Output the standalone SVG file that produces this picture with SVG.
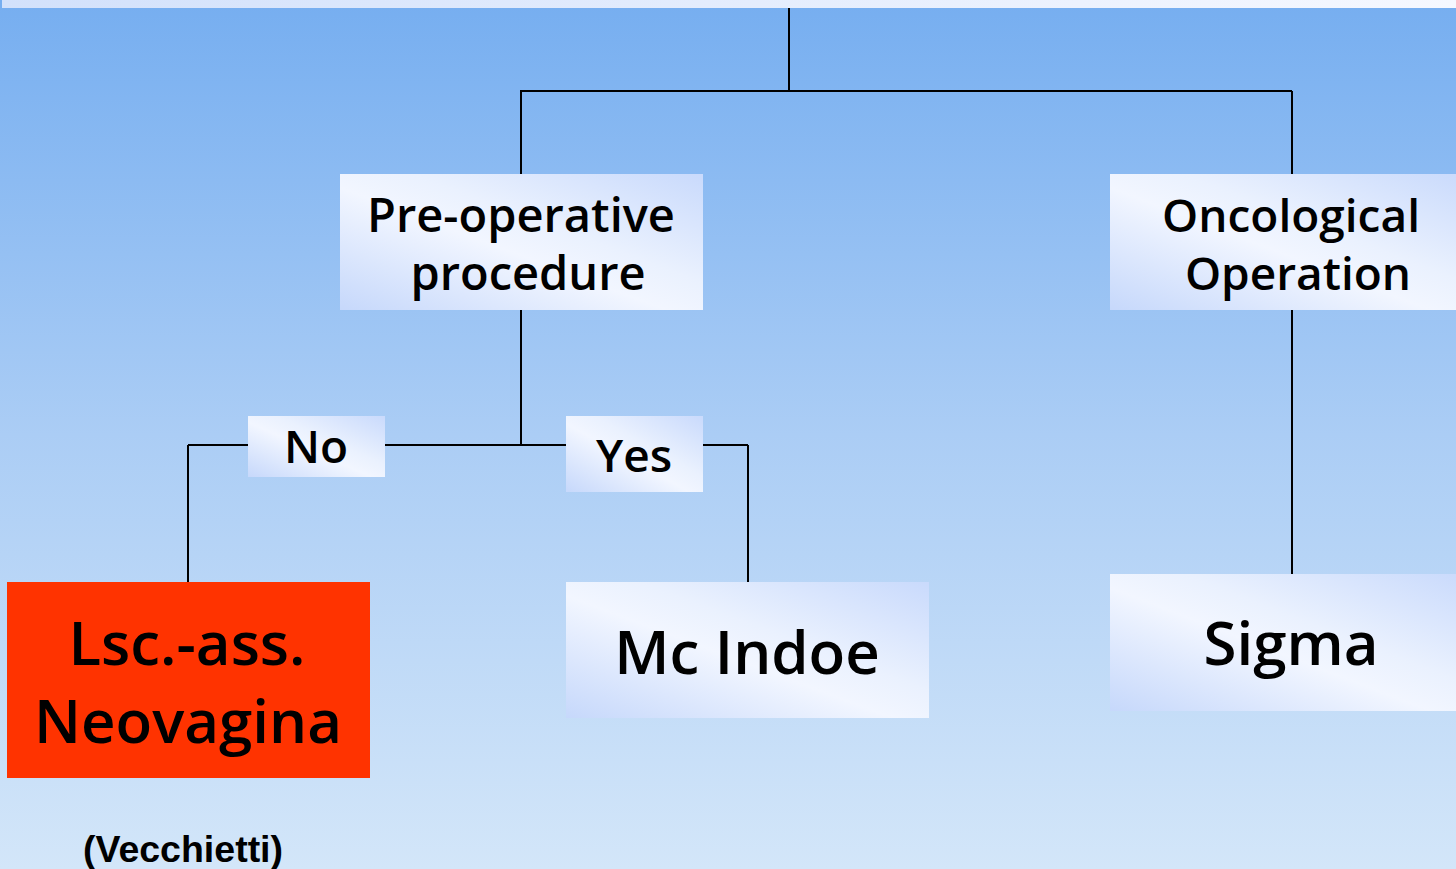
<svg xmlns="http://www.w3.org/2000/svg" width="1456" height="869" viewBox="0 0 1456 869">
<defs>
<linearGradient id="bg" x1="0" y1="0" x2="0" y2="1">
<stop offset="0" stop-color="#76aef0"/>
<stop offset="0.5" stop-color="#abcdf5"/>
<stop offset="1" stop-color="#d3e6f9"/>
</linearGradient>
<linearGradient id="box" x1="0" y1="1" x2="1" y2="0">
<stop offset="0" stop-color="#c6d8fb"/>
<stop offset="0.45" stop-color="#f2f6ff"/>
<stop offset="0.6" stop-color="#eaf1fe"/>
<stop offset="1" stop-color="#c9dafc"/>
</linearGradient>
<linearGradient id="band" x1="0" y1="0" x2="1" y2="0">
<stop offset="0" stop-color="#d2e1fb"/>
<stop offset="1" stop-color="#f5f8ff"/>
</linearGradient>
<style>
.ln{stroke:#000;stroke-width:2;fill:none}
.bx{fill:url(#box)}
.t{font-family:"Open Sans","Noto Sans",sans-serif;font-weight:600;fill:#000;text-anchor:middle}
</style>
</defs>
<rect x="0" y="0" width="1456" height="869" fill="url(#bg)"/>
<rect x="2" y="0" width="1454" height="8" fill="url(#band)"/>
<g id="connectors">
<path class="ln" d="M789 8V91M520 91H1292M521 91V174M1292 91V174M1292 310V574M521 310V445M188 445H748M188 445V582M748 445V582"/>
</g>
<g id="preop">
<rect class="bx" x="340" y="174" width="363" height="136"/>
<text class="t" x="521" y="232" font-size="47">Pre-operative</text>
<text class="t" x="528" y="290" font-size="47">procedure</text>
</g>
<g id="onco">
<rect class="bx" x="1110" y="174" width="356" height="136"/>
<text class="t" x="1291" y="232" font-size="46">Oncological</text>
<text class="t" x="1298" y="290" font-size="46">Operation</text>
</g>
<g id="no">
<rect class="bx" x="248" y="416" width="137" height="61"/>
<text class="t" x="316" y="463" font-size="46">No</text>
</g>
<g id="yes">
<rect class="bx" x="566" y="416" width="137" height="76"/>
<text class="t" x="634" y="472" font-size="46">Yes</text>
</g>
<g id="lsc">
<rect x="7" y="582" width="363" height="196" fill="#ff3300"/>
<text class="t" x="187" y="665" font-size="60">Lsc.-ass.</text>
<text class="t" x="188" y="743" font-size="60">Neovagina</text>
</g>
<g id="mcindoe">
<rect class="bx" x="566" y="582" width="363" height="136"/>
<text class="t" x="747" y="674" font-size="60">Mc Indoe</text>
</g>
<g id="sigma">
<rect class="bx" x="1110" y="574" width="356" height="137"/>
<text class="t" x="1291" y="665" font-size="60">Sigma</text>
</g>
<text x="183" y="862" font-family="Liberation Sans,Arial,sans-serif" font-weight="bold" font-size="37.5" text-anchor="middle">(Vecchietti)</text>
</svg>
